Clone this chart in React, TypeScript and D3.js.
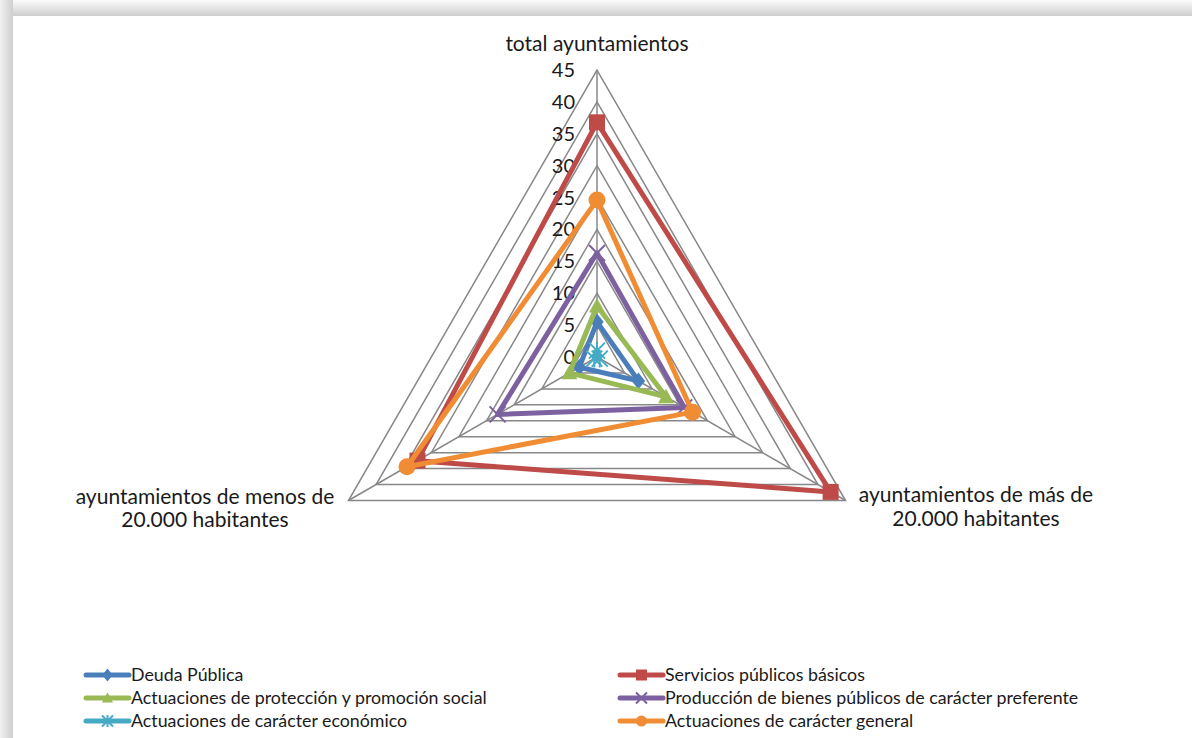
import React from "react";
import * as d3 from "d3";

const axesLabels: string[][] = [
  ["total ayuntamientos"],
  ["ayuntamientos de más de", "20.000 habitantes"],
  ["ayuntamientos de menos de", "20.000 habitantes"],
];
const tickValues = [0, 5, 10, 15, 20, 25, 30, 35, 40, 45];

const seriesNames = [
  "Deuda Pública",
  "Servicios públicos básicos",
  "Actuaciones de protección y promoción social",
  "Producción de bienes públicos de carácter preferente",
  "Actuaciones de carácter económico",
  "Actuaciones de carácter general",
];
const deuda = [5.5, 7.5, 3.2];
const servicios = [36.8, 42.3, 32.5];
const proteccion = [8, 12.5, 5];
const produccion = [16.3, 15.8, 18];
const economico = [1, 0.5, 0.5];
const general = [24.6, 17.3, 34.4];
const seriesValues = [deuda, servicios, proteccion, produccion, economico, general];
const seriesColors = ["#4A7EBB", "#BE4B48", "#98B954", "#7D60A0", "#46AAC5", "#F08C33"];
const markerTypes = ["diamond", "square", "triangle", "x", "star", "circle"];

const FONT = "Lato, 'Open Sans', sans-serif";

function Marker({ type, x, y, color, size }: { type: string; x: number; y: number; color: string; size: number }) {
  const s = size;
  if (type === "diamond") {
    const h = s * 0.6;
    return <path d={`M${x},${y - h}L${x + h * 0.8},${y}L${x},${y + h}L${x - h * 0.8},${y}Z`} fill={color} />;
  }
  if (type === "square") {
    const h = s / 2;
    return <rect x={x - h} y={y - h} width={s} height={s} fill={color} />;
  }
  if (type === "triangle") {
    const h = s / 2;
    return <path d={`M${x},${y - h}L${x + h},${y + h * 0.8}L${x - h},${y + h * 0.8}Z`} fill={color} />;
  }
  if (type === "circle") {
    return <circle cx={x} cy={y} r={s / 2} fill={color} />;
  }
  if (type === "x") {
    const h = s / 2;
    return (
      <path d={`M${x - h},${y - h}L${x + h},${y + h}M${x - h},${y + h}L${x + h},${y - h}`} stroke={color} strokeWidth={2} fill="none" />
    );
  }
  const h = s / 2;
  return (
    <path
      d={`M${x - h},${y - h}L${x + h},${y + h}M${x - h},${y + h}L${x + h},${y - h}M${x},${y - h * 1.1}L${x},${y + h * 1.1}`}
      stroke={color}
      strokeWidth={2}
      fill="none"
    />
  );
}

export default function App() {
  const W = 1192;
  const H = 738;
  const cx = 597;
  const cy = 357;
  const r = d3.scaleLinear().domain([0, 45]).range([0, 287]);
  const angle = (i: number) => ((-90 + 120 * i) * Math.PI) / 180;
  const pt = (i: number, v: number): [number, number] => [cx + r(v) * Math.cos(angle(i)), cy + r(v) * Math.sin(angle(i))];
  const line = d3.line<[number, number]>().curve(d3.curveLinearClosed);

  const labelPos = [
    { x: 597, y: [44], anchor: "middle" },
    { x: 976, y: [495, 519], anchor: "middle" },
    { x: 205, y: [497, 520], anchor: "middle" },
  ];

  const legendX = [86, 620];
  const legendRowsY = [675, 698, 721];

  return (
    <svg width={W} height={H} style={{ position: "absolute", left: 0, top: 0, background: "#fff" }}>
      <defs>
        <linearGradient id="topShade" x1="0" y1="0" x2="0" y2="1">
          <stop offset="0" stopColor="#fbfbfb" />
          <stop offset="0.6" stopColor="#e0e0e0" />
          <stop offset="1" stopColor="#cdcdcd" />
        </linearGradient>
        <linearGradient id="leftShade" x1="0" y1="0" x2="1" y2="0">
          <stop offset="0" stopColor="#f2f2f2" />
          <stop offset="0.6" stopColor="#dcdcdc" />
          <stop offset="1" stopColor="#cfcfcf" />
        </linearGradient>
      </defs>
      <rect x={0} y={0} width={W} height={H} fill="#fff" />
      <rect x={0} y={0} width={W} height={16} fill="url(#topShade)" />
      <rect x={0} y={0} width={13} height={H} fill="url(#leftShade)" />

      <g>
        {tickValues.slice(1).map((t) => (
          <path key={t} d={line([0, 1, 2].map((i) => pt(i, t))) || ""} fill="none" stroke="#888" strokeWidth={1.5} />
        ))}
        {[0, 1, 2].map((i) => {
          const [x, y] = pt(i, 45);
          return <line key={i} x1={cx} y1={cy} x2={x} y2={y} stroke="#888" strokeWidth={1.5} />;
        })}
      </g>

      <g fontFamily={FONT} fontSize={20} fill="#1a1a1a" textAnchor="end">
        {tickValues.map((t) => (
          <text key={t} x={cx - 22} y={cy - r(t)} dy="0.35em">
            {t}
          </text>
        ))}
      </g>

      {seriesValues.map((vals, si) => {
        const pts = vals.map((v, i) => pt(i, v));
        return (
          <g key={si}>
            <path d={line(pts) || ""} fill="none" stroke={seriesColors[si]} strokeWidth={5} strokeLinejoin="round" />
            {pts.map(([x, y], i) => (
              <Marker key={i} type={markerTypes[si]} x={x} y={y} color={seriesColors[si]} size={si === 5 ? 17 : si === 0 ? 14 : 16} />
            ))}
          </g>
        );
      })}

      <g fontFamily={FONT} fontSize={21} fill="#1a1a1a">
        {axesLabels.map((lines, i) =>
          lines.map((l, j) => (
            <text key={`${i}-${j}`} x={labelPos[i].x} y={labelPos[i].y[j]} textAnchor={labelPos[i].anchor as any} dy="0.35em">
              {l}
            </text>
          ))
        )}
      </g>

      <g fontFamily={FONT} fontSize={17.8} fill="#1a1a1a">
        {seriesNames.map((name, si) => {
          const col = si % 2;
          const row = Math.floor(si / 2);
          const x0 = legendX[col];
          const y0 = legendRowsY[row];
          return (
            <g key={si}>
              <line x1={x0} y1={y0} x2={x0 + 43} y2={y0} stroke={seriesColors[si]} strokeWidth={5} strokeLinecap="round" />
              <Marker type={markerTypes[si]} x={x0 + 21.5} y={y0} color={seriesColors[si]} size={11} />
              <text x={x0 + 45} y={y0} dy="0.35em">
                {name}
              </text>
            </g>
          );
        })}
      </g>
    </svg>
  );
}
